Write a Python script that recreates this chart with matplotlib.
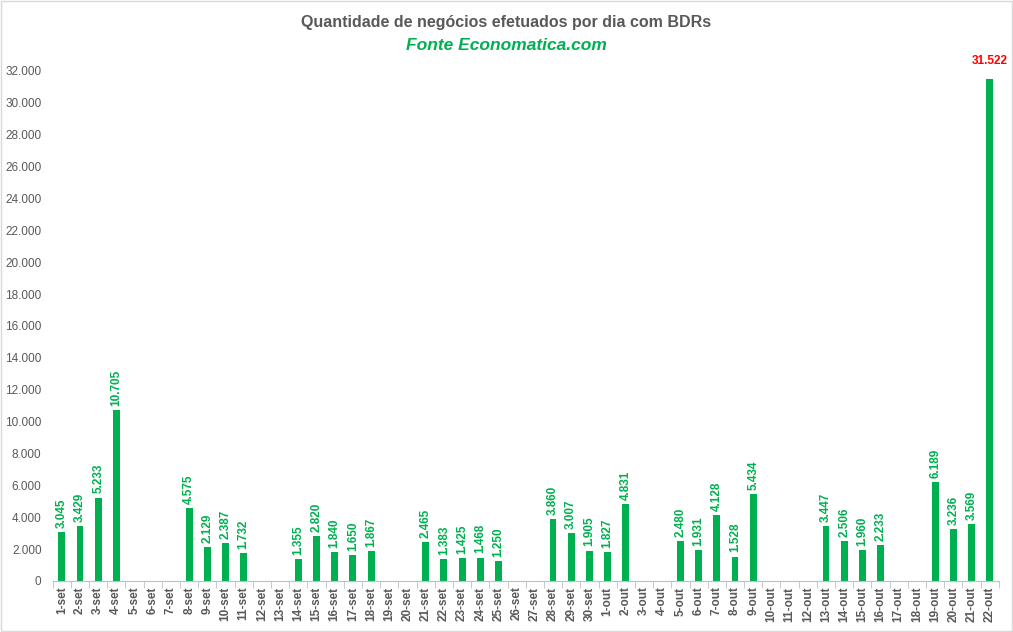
import numpy as np
import matplotlib.pyplot as plt

# dias (setembro e outubro)
dias = [f"{d}-set" for d in range(1, 31)] + [f"{d}-out" for d in range(1, 23)]

# negócios por dia (0 = sem pregão)
negocios = [3045, 3429, 5233, 10705, 0, 0, 0, 4575, 2129, 2387,
            1732, 0, 0, 1355, 2820, 1840, 1650, 1867, 0, 0,
            2465, 1383, 1425, 1468, 1250, 0, 0, 3860, 3007, 1905,
            1827, 4831, 0, 0, 2480, 1931, 4128, 1528, 5434, 0,
            0, 0, 3447, 2506, 1960, 2233, 0, 0, 6189, 3236,
            3569, 31522]

yticks = list(range(0, 32001, 2000))

verde = "#00B050"
cinza = "#595959"
fonte = ["Liberation Sans Narrow", "Liberation Sans", "DejaVu Sans"]

plt.rcParams["font.family"] = fonte

fig = plt.figure(figsize=(10.13, 6.32), dpi=100)
ax = fig.add_axes([0.052, 0.0807, 0.934, 0.807])

x = np.arange(len(dias))
ax.bar(x, negocios, width=0.38, color=verde, zorder=2)

def fmt(v):
    return f"{v:,}".replace(",", ".")

for xi, v in zip(x, negocios):
    if v == 0:
        continue
    if xi == len(dias) - 1:
        ax.annotate(fmt(v), (xi, v), xytext=(0, 8), textcoords="offset points",
                    ha="center", va="bottom", color="red", fontsize=8.5,
                    fontweight="bold")
    else:
        ax.annotate(fmt(v), (xi, v), xytext=(0, 3), textcoords="offset points",
                    ha="center", va="bottom", rotation=90, color=verde,
                    fontsize=8.5, fontweight="bold")

ax.set_xlim(-0.5, len(dias) - 0.5)
ax.set_ylim(0, 32000)
ax.set_yticks(yticks)
ax.set_yticklabels([fmt(t) for t in yticks], color=cinza, fontsize=8.5)
ax.set_xticks(x)
ax.set_xticklabels(dias, rotation=90, color=cinza, fontsize=8.5, fontweight="bold")
ax.set_xticks(np.arange(-0.5, len(dias), 1), minor=True)
ax.tick_params(axis="x", which="major", length=0, pad=4)
ax.tick_params(axis="x", which="minor", length=5, color="#BFBFBF", direction="out")
ax.tick_params(axis="y", length=0, pad=8)

for s in ["top", "right", "left"]:
    ax.spines[s].set_visible(False)
ax.spines["bottom"].set_color("#BFBFBF")

fig.text(0.5, 0.965, "Quantidade de negócios efetuados por dia com BDRs",
         ha="center", va="center", color=cinza, fontsize=11.5, fontweight="bold")
fig.text(0.5, 0.928, "Fonte Economatica.com", ha="center", va="center",
         color=verde, fontsize=12.5, fontweight="bold", style="italic")

fig.patches.append(plt.Rectangle((0.001, 0.001), 0.998, 0.998, transform=fig.transFigure,
                                 fill=False, edgecolor="#D9D9D9", linewidth=1))

plt.savefig("out.png", dpi=100)
